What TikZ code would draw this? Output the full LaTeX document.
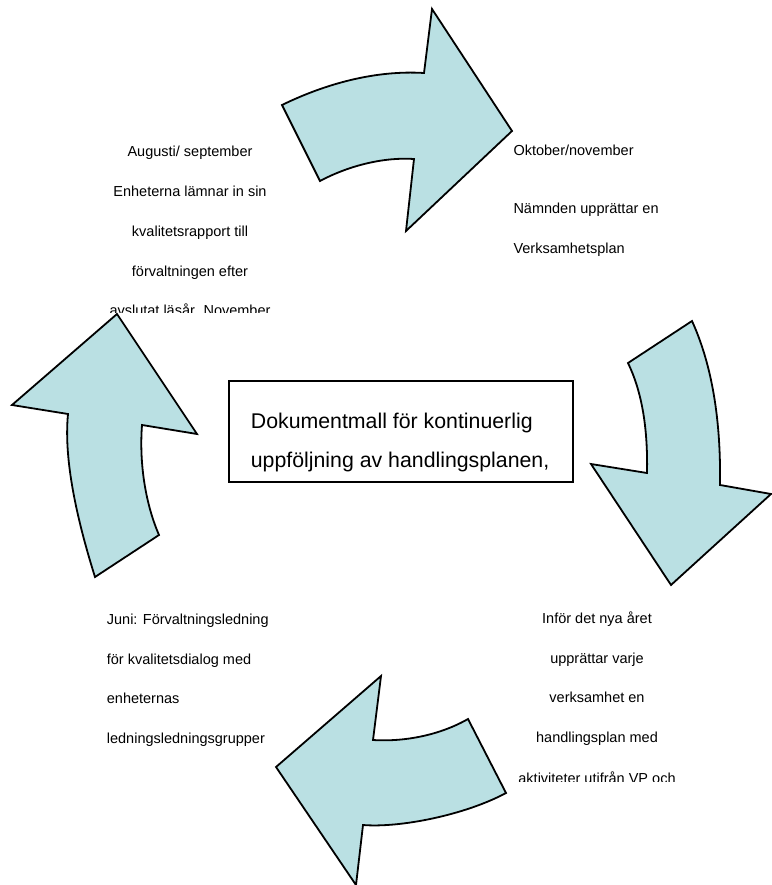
\documentclass[tikz,border=0pt]{standalone}
\usepackage{fontspec}
\setmainfont{Liberation Sans}
\definecolor{arrowfill}{RGB}{186,224,227}
\begin{document}
\begin{tikzpicture}[x=1pt,y=-1pt,
  cyc/.style={fill=arrowfill, draw=black, line width=1.8pt, line join=miter},
  small/.style={font=\fontsize{14.5}{17}\selectfont, inner sep=0pt},
  bigtxt/.style={font=\fontsize{21.3}{25}\selectfont, inner sep=0pt, anchor=base west},
  framebox/.style={draw=black, line width=1.9pt}]
\useasboundingbox (0,0) rectangle (771,885);

% top arrow
\draw[cyc] (282,105) .. controls (325,84) and (375,70) .. (424,73)
  -- (432,9) -- (512,131) -- (406,231) -- (414,159)
  .. controls (385,157) and (350,165) .. (320,181) -- cycle;
% right arrow
\draw[cyc] (628,363) -- (692,321) .. controls (712,365) and (721,420) .. (720,485)
  -- (771,494) -- (671,585) -- (591,464) -- (647,473)
  .. controls (648,425) and (641,390) .. (628,363) -- cycle;
% bottom arrow
\draw[cyc] (468,719) -- (506,793) .. controls (465,815) and (400,828) .. (363,825)
  -- (356,885) -- (276,767) -- (381,676) -- (373,740)
  .. controls (405,742) and (440,735) .. (468,719) -- cycle;
% left arrow
\draw[cyc] (117,314) -- (197,434) -- (142,425)
  .. controls (139,465) and (146,505) .. (159,535) -- (95,577)
  .. controls (74,510) and (64,455) .. (68,414) -- (12,405) -- cycle;

% centre box
\draw[framebox] (229.3,380.7) rectangle (573.3,481.7);
\node[bigtxt] (c1) at (250.7,428.3) {Dokumentmall för kontinuerlig};
\node[bigtxt] (c2) at (250.7,467.7) {uppföljning av handlingsplanen,};

% top-left text
\begin{scope}
\clip (90,130) rectangle (300,312.7);
\node[small, anchor=base] (tl1) at (190,156.7) {Augusti/ september};
\node[small, anchor=base] (tl2) at (190,196.5) {Enheterna lämnar in sin};
\node[small, anchor=base] (tl3) at (190,236.3) {kvalitetsrapport till};
\node[small, anchor=base] (tl4) at (190,276) {förvaltningen efter};
\node[small, anchor=base] (tl5) at (190,315.8) {avslutat läsår. November};
\end{scope}

% top-right text
\node[small, anchor=base west] (tr1) at (513.3,156) {Oktober/november};
\node[small, anchor=base west] (tr2) at (513.3,214) {Nämnden upprättar en};
\node[small, anchor=base west] (tr3) at (513.3,254) {Verksamhetsplan};

% bottom-right text
\begin{scope}
\clip (480,600) rectangle (720,781.5);
\node[small, anchor=base] (br1) at (597,623) {Inför det nya året};
\node[small, anchor=base] (br2) at (597,663) {upprättar varje};
\node[small, anchor=base] (br3) at (597,702.7) {verksamhet en};
\node[small, anchor=base] (br4) at (597,742.5) {handlingsplan med};
\node[small, anchor=base] (br5) at (597,783.3) {aktiviteter utifrån VP och};
\end{scope}

% bottom-left text
\node[small, anchor=base west] (bl1) at (106.7,624.5) {Juni: Förvaltningsledning};
\node[small, anchor=base west] (bl2) at (106.7,664) {för kvalitetsdialog med};
\node[small, anchor=base west] (bl3) at (106.7,703.5) {enheternas};
\node[small, anchor=base west] (bl4) at (106.7,743) {ledningsledningsgrupper};
\end{tikzpicture}
\end{document}
